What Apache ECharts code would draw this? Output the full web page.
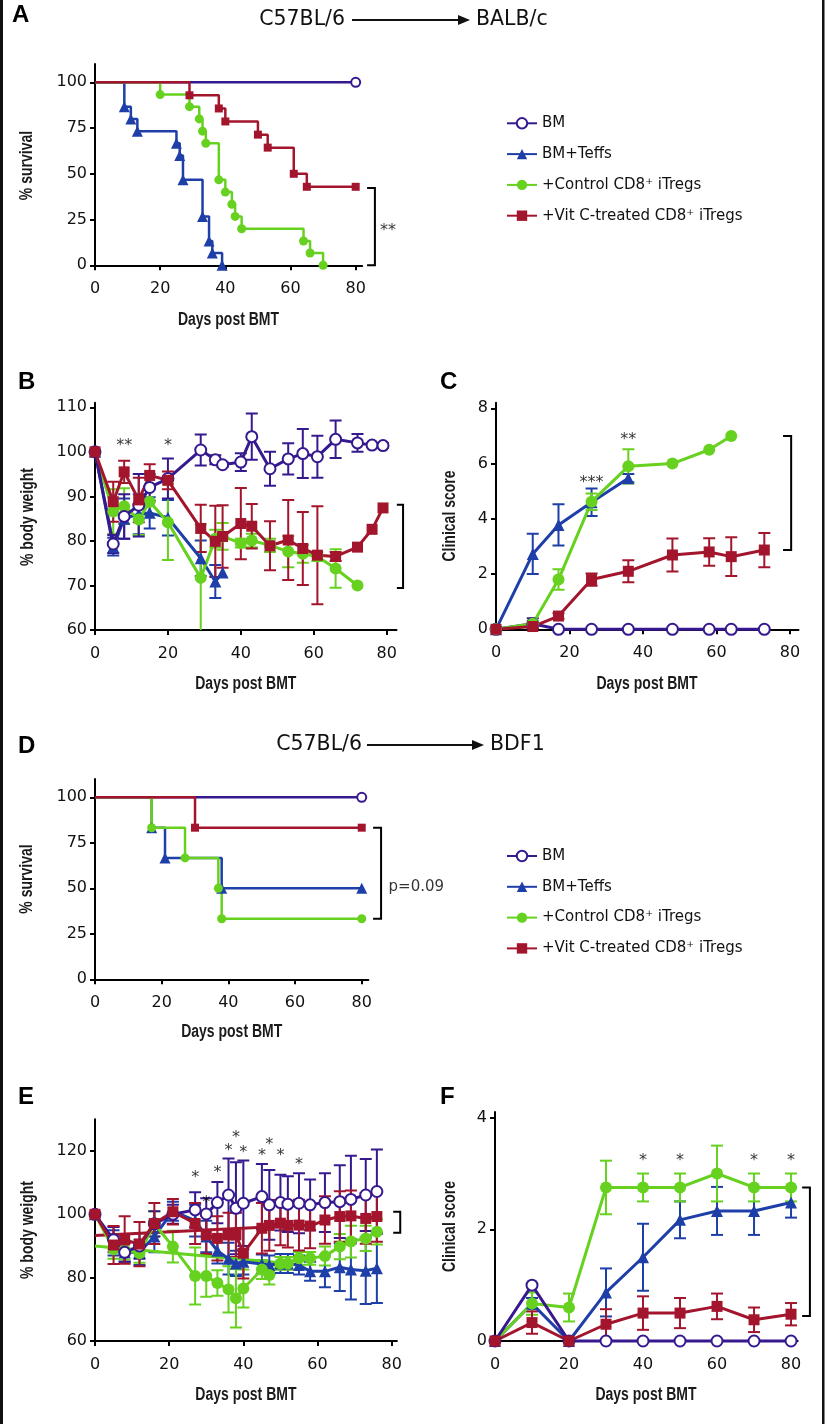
<!DOCTYPE html>
<html><head><meta charset="utf-8">
<script src="https://cdn.jsdelivr.net/npm/echarts@6/dist/echarts.min.js"></script>
<style>html,body{margin:0;padding:0;background:#fff}#c{width:827px;height:1424px}</style>
</head><body><div id="c"></div><script>
// ---------------- DATA ----------------
const GROUPS = ['BM', 'BM+Teffs', '+Control CD8\u207A iTregs', '+Vit C-treated CD8\u207A iTregs'];
const TICKS_X = [0, 20, 40, 60, 80];
const TICKS_SURV = [0, 25, 50, 75, 100];
const TICKS_WB = [60, 70, 80, 90, 100, 110];
const TICKS_CS_C = [0, 2, 4, 6, 8];
const TICKS_WE = [60, 80, 100, 120];
const TICKS_CS_F = [0, 2, 4];
const X_TITLE = 'Days post BMT';
const Y_TITLES = ['% survival', '% body weight', 'Clinical score', '% survival', '% body weight', 'Clinical score'];

// Panel A: survival (Kaplan-Meier steps)
const A_BM   = [[0,100],[80,100]];
const A_TEFF = [[0,100],[9,86.7],[11,80],[13,73.3],[25,66.7],[26,60],[27,46.7],[33,26.7],[35,13.3],[36,6.7],[39,0]];
const A_CTRL = [[0,100],[20,93.3],[29,86.7],[32,80],[33,73.3],[34,66.7],[38,46.7],[40,40],[42,33.3],[43,26.7],[45,20],[64,13.3],[66,6.7],[70,0]];
const A_VITC = [[0,100],[29,92.9],[38,85.7],[40,78.6],[50,71.4],[53,64.3],[61,50],[65,42.9],[80,42.9]];

// Panel B: % body weight
const B_DAYS = [0,5,8,12,15,20,29,33,35,40,43,48,53,57,61,66,72,76,79];
const B_BM       = [100,79.3,85.5,88,92,94,100.4,98.2,97.1,97.7,103.4,96.2,98.4,99.6,98.9,102.8,102,101.5,101.4];
const B_BM_ERR   = [0,2,5,7,3,4.5,3.5,1,0.5,2,5.2,3.8,3.5,5.5,4.7,4.2,2,0.5,0.5];
const B_TEFF     = [100,78.7,85,86,86.3,85.2,76.1,70.9,72.9];
const B_TEFF_ERR = [0,2,4.5,4.5,3.5,4,4,3.7,0];
const B_CTRL     = [100,86.6,87.8,84.8,88.8,84.2,71.7,80.5,81,79.5,80.1,79,77.6,77.1,76.5,73.8,70];
const B_CTRL_ERR = [0,5,4,3.5,3,8.5,12,2,3,1,1.5,1.5,3.5,2,1,4.3,0];
const B_VITC     = [100,88.8,95.5,89.2,94.7,93.6,82.8,79.9,81,83.9,83.3,78.9,80.2,78.3,76.8,76.5,78.6,82.6,87.4];
const B_VITC_ERR = [0,4.5,2.5,5,2.5,2,5.3,8,7,8,5,5.5,9,8.2,11,1,0,0,0];

// Panel C: clinical score
const C_DAYS = [0,10,17,26,36,48,58,64,73];
const C_BM       = [0,0.2,0,0,0,0,0,0,0];
const C_BM_ERR   = [0,0.2,0,0,0,0,0,0,0];
const C_TEFF     = [0,2.73,3.78,4.6,5.47];
const C_TEFF_ERR = [0,0.73,0.75,0.5,0.15];
const C_CTRL     = [0,0.2,1.8,4.62,5.9,6.0,6.5,7.0];
const C_CTRL_ERR = [0,0.1,0.37,0.3,0.62,0,0,0];
const C_VITC     = [0,0.1,0.48,1.8,2.1,2.69,2.8,2.63,2.87];
const C_VITC_ERR = [0,0.05,0.1,0.22,0.4,0.6,0.5,0.7,0.62];

// Panel D: survival
const D_BM   = [[0,100],[80,100]];
const D_TEFF = [[0,100],[17,83.3],[21,66.7],[38,50],[80,50]];
const D_CTRL = [[0,100],[17,83.3],[27,66.7],[37,50],[38,33.3],[80,33.3]];
const D_VITC = [[0,100],[30,83.3],[80,83.3]];

// Panel E: % body weight
const E_DAYS = [0,5,8,12,16,21,27,30,33,36,38,40,45,47,50,52,55,58,62,66,69,73,76];
const E_BM       = [100,92,88,90,97,100,101.4,100.1,103.7,106.1,101.9,103.5,105.6,103,103.7,103.2,103.5,103,103.7,104,104.7,106.1,107.2];
const E_BM_ERR   = [0,4,3,4,4,3,5.6,5,6.5,11.5,14.5,13.5,10.3,11,8.8,8.8,9.5,8,9.3,11.5,13.8,11.4,13.3];
const E_TEFF     = [100,91,88,88,93,101,98,93,88.5,86,84.5,85,84.3,84,84.5,84.5,84,82,82,83.3,82.6,82.2,83];
const E_TEFF_ERR = [0,4,3,4,5,3,5,5,4,5,4,4,3,3,3,3,3,3,5,7.5,9.5,10.5,11];
const E_CTRL     = [100,89,88.7,87.7,97,89.8,80.5,80.5,78.3,76.3,73.5,76.6,82.6,80.8,84.5,84.5,86.1,86.1,86.8,89.8,91.4,92.4,94.5];
const E_CTRL_ERR = [0,3,3,3,4,5,9,6.5,4,7.3,9.2,6,3,3,2,2,2,2,3,4,5,4,4];
const E_VITC     = [100,90.3,91.9,90.6,97.1,100.8,97.1,93.5,92.4,93.5,93.5,87.7,95.6,96.5,97.2,96.5,96.6,96.3,98.2,99.3,99.5,98.7,99.3];
const E_VITC_ERR = [0,6,7.5,7,6.5,4,6.5,6,7,7,7,8,8,8,7,7,8,7,7.5,8,8,8,8];
const E_CTRL_EXTRA = [[0,90],[52,84.5]];
const E_VITC_EXTRA = [[0,93.3],[52,96.3]];

// Panel F: clinical score
const F_DAYS = [0,10,20,30,40,50,60,70,80];
const F_BM       = [0,1,0,0,0,0,0,0,0];
const F_TEFF     = [0,0.67,0,0.87,1.5,2.17,2.33,2.33,2.48];
const F_TEFF_ERR = [0,0.1,0,0.43,0.6,0.33,0.43,0.43,0.27];
const F_CTRL     = [0,0.67,0.6,2.75,2.75,2.75,3.0,2.75,2.75];
const F_CTRL_ERR = [0,0.2,0.25,0.48,0.25,0.25,0.5,0.25,0.25];
const F_VITC     = [0,0.33,0,0.3,0.5,0.5,0.62,0.38,0.48];
const F_VITC_ERR = [0,0.2,0,0.27,0.3,0.27,0.23,0.22,0.2];

// Significance marks: [x, y, text]
const A_STARS = [[89.9,21,'**']];
const B_STARS = [[8,102.3,'**'],[20,102.3,'*']];
const C_STARS = [[26,5.44,'***'],[36,7.01,'**']];
const E_STARS = [[27,112.7,'*'],[30,105,'*'],[33,114.2,'*'],[36,121.4,'*'],[38,125.4,'*'],[40,120.8,'*'],[45,119.8,'*'],[47,123.3,'*'],[50,119.8,'*'],[55,117,'*']];
const F_STARS = [[40,3.3,'*'],[50,3.3,'*'],[70,3.3,'*'],[80,3.3,'*']];
// Brackets: [xLeft, xRight, yTop, yBottom]
const A_BRACKET = [83.5,85.9,42.3,0];
const B_BRACKET = [82.8,84.5,88.1,69.4];
const C_BRACKET = [78.1,80.3,7.0,2.87];
const D_BRACKET = [83.4,85.8,83.3,33.3];
const E_BRACKET = [80.4,82.3,100.8,94.2];
const F_BRACKET = [83,85.1,2.75,0.45];
const D_PTEXT = [87.9,50.9,'p=0.09'];

// ---------------- STYLE ----------------
const COL = ['#36198f', '#1e3fa8', '#66d11f', '#a3152d'];
const SYM = ['emptyCircle', 'triangle', 'circle', 'rect'];
const FONT = '"DejaVu Sans", "Liberation Sans", Arial, sans-serif';
const BOLD = '"Liberation Sans", Arial, Helvetica, sans-serif';
const NARROW = '"Liberation Sans", Arial, sans-serif';

const zip = (d, v) => v.map((y, i) => [d[i], y]);
const zip3 = (d, v, e) => v.map((y, i) => [d[i], y, e[i]]);

// grid layouts [left, top, width, height]
const GRIDS = [
  [95, 64, 267.2, 201.3],
  [95, 402.8, 301.5, 227.2],
  [496, 402.8, 302.5, 226.5],
  [95, 779.1, 273.4, 200.2],
  [95, 1119.3, 301.9, 221.7],
  [495, 1112.1, 302.7, 228.9]
];
const XMAX = [82, 82.7, 82.3, 82, 81.4, 81.8];
const YR = [[0,110,TICKS_SURV],[60,111,TICKS_WB],[0,8.2,TICKS_CS_C],[0,110,TICKS_SURV],[60,130,TICKS_WE],[0,4.1,TICKS_CS_F]];
// axis-title anchor centres [xTitleX, xTitleY, yTitleX, yTitleY]
const TITLE_POS = [[228.5,320,27.5,165.5],[245.8,684.5,28,517],[647,684.5,450,516],[231.7,1031.7,27.5,879],[245.9,1395,28,1230],[646,1395,450,1226.5]];

const grid = GRIDS.map(g => ({left:g[0], top:g[1], width:g[2], height:g[3], containLabel:false}));
const axLine = {show:true, onZero:false, lineStyle:{color:'#000', width:2}};
const xAxis = XMAX.map((m, i) => ({
  gridIndex:i, type:'value', min:0, max:m, interval:20,
  axisLine:axLine,
  axisTick:{show:true, length:5, lineStyle:{color:'#000', width:2}, customValues:TICKS_X},
  axisLabel:{customValues:TICKS_X, fontSize:16, color:'#111', fontFamily:FONT, margin:16},
  splitLine:{show:false}
}));
const yAxis = YR.map((r, i) => ({
  gridIndex:i, type:'value', min:r[0], max:r[1],
  axisLine:axLine,
  axisTick:{show:true, length:5, lineStyle:{color:'#000', width:2}, customValues:r[2]},
  axisLabel:{customValues:r[2], fontSize:16, color:'#111', fontFamily:FONT, margin:8},
  splitLine:{show:false}
}));

const series = [];
function line(gi, k, data, size, width, step) {
  series.push({
    type:'line', name:GROUPS[k], xAxisIndex:gi, yAxisIndex:gi,
    data: step ? data.map((p, i) => i === 0 ? {value:p, symbol:'none'} : p) : data,
    step: step ? 'end' : false,
    symbol:SYM[k], symbolSize: k === 1 ? size + 2 : (k === 3 ? size - 1 : size), showAllSymbol:true,
    lineStyle:{color:COL[k], width:width},
    itemStyle:{color:COL[k], borderColor:COL[k], borderWidth: k === 0 ? 2 : 0},
    emphasis:{disabled:true}, animation:false, silent:true, clip:false
  });
}
function err(gi, k, rows) {
  series.push({
    type:'custom', xAxisIndex:gi, yAxisIndex:gi, data:rows.filter(r => r[2] > 0),
    encode:{x:0, y:1}, clip:true, silent:true, animation:false,
    renderItem:(p, api) => {
      const x = api.value(0), y = api.value(1), e = api.value(2);
      const t = api.coord([x, y + e]), b = api.coord([x, y - e]);
      const w = 6, st = {stroke:COL[k], lineWidth:2, fill:null};
      return {type:'group', children:[
        {type:'line', shape:{x1:t[0], y1:t[1], x2:b[0], y2:b[1]}, style:st},
        {type:'line', shape:{x1:t[0]-w, y1:t[1], x2:t[0]+w, y2:t[1]}, style:st},
        {type:'line', shape:{x1:b[0]-w, y1:b[1], x2:b[0]+w, y2:b[1]}, style:st}
      ]};
    }
  });
}
function plain(gi, k, data, width) {
  series.push({type:'line', xAxisIndex:gi, yAxisIndex:gi, data, symbol:'none',
    lineStyle:{color:COL[k], width}, animation:false, silent:true});
}
function bracket(gi, b) {
  series.push({
    type:'custom', xAxisIndex:gi, yAxisIndex:gi, data:[b], encode:{x:[0,1], y:[2,3]},
    clip:false, silent:true, animation:false,
    renderItem:(p, api) => {
      const p1 = api.coord([api.value(0), api.value(2)]), p2 = api.coord([api.value(1), api.value(2)]);
      const p3 = api.coord([api.value(1), api.value(3)]), p4 = api.coord([api.value(0), api.value(3)]);
      return {type:'polyline', shape:{points:[p1,p2,p3,p4]}, style:{stroke:'#000', lineWidth:2, fill:null}};
    }
  });
}
function marks(gi, arr, pos, size) {
  series.push({
    type:'scatter', xAxisIndex:gi, yAxisIndex:gi, symbolSize:1, itemStyle:{color:'rgba(0,0,0,0)'},
    data: arr.map(a => ({name:a[2], value:[a[0], a[1]]})),
    label:{show:true, formatter:'{b}', position:pos || 'inside', distance:0, fontSize:size || 16,
      color:'#000', fontFamily:FONT, offset: pos ? [0,0] : [0,4]},
    silent:true, animation:false, clip:false
  });
}

// Panel A
line(0, 0, A_BM, 9, 2.5, true);
line(0, 1, A_TEFF, 9, 2.5, true);
line(0, 2, A_CTRL, 9, 2.5, true);
line(0, 3, A_VITC, 9, 2.5, true);
bracket(0, A_BRACKET); marks(0, A_STARS);
// Panel B
err(1, 1, zip3(B_DAYS, B_TEFF, B_TEFF_ERR)); line(1, 1, zip(B_DAYS, B_TEFF), 10, 3);
err(1, 2, zip3(B_DAYS, B_CTRL, B_CTRL_ERR)); line(1, 2, zip(B_DAYS, B_CTRL), 12, 3);
err(1, 0, zip3(B_DAYS, B_BM, B_BM_ERR)); line(1, 0, zip(B_DAYS, B_BM), 11, 3);
err(1, 3, zip3(B_DAYS, B_VITC, B_VITC_ERR)); line(1, 3, zip(B_DAYS, B_VITC), 12, 3);
bracket(1, B_BRACKET); marks(1, B_STARS);
// Panel C
err(2, 0, zip3(C_DAYS, C_BM, C_BM_ERR)); line(2, 0, zip(C_DAYS, C_BM), 11, 3);
err(2, 1, zip3(C_DAYS, C_TEFF, C_TEFF_ERR)); line(2, 1, zip(C_DAYS, C_TEFF), 10, 3);
err(2, 2, zip3(C_DAYS, C_CTRL, C_CTRL_ERR)); line(2, 2, zip(C_DAYS, C_CTRL), 12, 3);
err(2, 3, zip3(C_DAYS, C_VITC, C_VITC_ERR)); line(2, 3, zip(C_DAYS, C_VITC), 12, 3);
bracket(2, C_BRACKET); marks(2, C_STARS);
// Panel D
line(3, 0, D_BM, 9, 2.5, true);
line(3, 1, D_TEFF, 9, 2.5, true);
line(3, 2, D_CTRL, 9, 2.5, true);
line(3, 3, D_VITC, 9, 2.5, true);
bracket(3, D_BRACKET); marks(3, [D_PTEXT], 'right', 15);
// Panel E
plain(4, 2, E_CTRL_EXTRA, 3); plain(4, 3, E_VITC_EXTRA, 3);
err(4, 1, zip3(E_DAYS, E_TEFF, E_TEFF_ERR)); line(4, 1, zip(E_DAYS, E_TEFF), 10, 3);
err(4, 2, zip3(E_DAYS, E_CTRL, E_CTRL_ERR)); line(4, 2, zip(E_DAYS, E_CTRL), 12, 3);
err(4, 0, zip3(E_DAYS, E_BM, E_BM_ERR)); line(4, 0, zip(E_DAYS, E_BM), 11, 3);
err(4, 3, zip3(E_DAYS, E_VITC, E_VITC_ERR)); line(4, 3, zip(E_DAYS, E_VITC), 12, 3);
bracket(4, E_BRACKET); marks(4, E_STARS);
// Panel F
err(5, 1, zip3(F_DAYS, F_TEFF, F_TEFF_ERR)); line(5, 1, zip(F_DAYS, F_TEFF), 10, 3);
err(5, 2, zip3(F_DAYS, F_CTRL, F_CTRL_ERR)); line(5, 2, zip(F_DAYS, F_CTRL), 12, 3);
line(5, 0, zip(F_DAYS, F_BM), 11, 3);
err(5, 3, zip3(F_DAYS, F_VITC, F_VITC_ERR)); line(5, 3, zip(F_DAYS, F_VITC), 12, 3);
bracket(5, F_BRACKET); marks(5, F_STARS);

const legendBase = {orient:'vertical', left:501, data:GROUPS, itemWidth:30, itemHeight:13, itemGap:12.8,
  selectedMode:false, textStyle:{fontSize:15, color:'#111', fontFamily:FONT, lineHeight:18}};

function arrowTitle(y, left, leftEnd, right, lineStart, tip, rightX) {
  return [
    {type:'text', x:leftEnd, y:y, style:{text:left, font:'20.5px ' + FONT, fill:'#111', align:'right', verticalAlign:'middle'}},
    {type:'line', shape:{x1:lineStart, y1:y, x2:tip - 9, y2:y}, style:{stroke:'#111', lineWidth:2}},
    {type:'polygon', shape:{points:[[tip - 12, y - 5], [tip, y], [tip - 12, y + 5]]}, style:{fill:'#111'}},
    {type:'text', x:rightX, y:y, style:{text:right, font:'20.5px ' + FONT, fill:'#111', align:'left', verticalAlign:'middle'}}
  ];
}
function letter(t, x, y) {
  return {type:'text', left:x, top:y - 13, style:{text:t, font:'bold 24px ' + BOLD, fill:'#000'}};
}
const axisTitles = [];
TITLE_POS.forEach((p, i) => {
  axisTitles.push({type:'text', x:p[0], y:p[1], scaleX:0.8,
    style:{text:X_TITLE, font:'bold 17.5px ' + NARROW, fill:'#1a1a1a', align:'center', verticalAlign:'middle'}});
  axisTitles.push({type:'text', x:p[2], y:p[3], rotation:Math.PI / 2, scaleX:0.8,
    style:{text:Y_TITLES[i], font:'bold 17.5px ' + NARROW, fill:'#1a1a1a', align:'center', verticalAlign:'middle'}});
});

const option = {
  backgroundColor:'#fff', animation:false,
  textStyle:{fontFamily:FONT},
  grid, xAxis, yAxis, series,
  legend:[Object.assign({top:109.3}, legendBase), Object.assign({top:842}, legendBase)],
  graphic:[
    {type:'rect', shape:{x:0, y:0, width:3, height:1424}, style:{fill:'#111'}},
    {type:'rect', shape:{x:822, y:0, width:2.5, height:1424}, style:{fill:'#111'}},
    ...arrowTitle(20, 'C57BL/6', 345, 'BALB/c', 352, 470, 476),
    ...arrowTitle(745, 'C57BL/6', 362, 'BDF1', 367, 484, 490),
    letter('A', 12, 16), letter('B', 18, 383), letter('C', 440, 383),
    letter('D', 18, 747), letter('E', 18, 1098), letter('F', 440, 1098),
    ...axisTitles
  ]
};
const chart = echarts.init(document.getElementById('c'), null, {renderer:'canvas'});
chart.setOption(option);
</script></body></html>
